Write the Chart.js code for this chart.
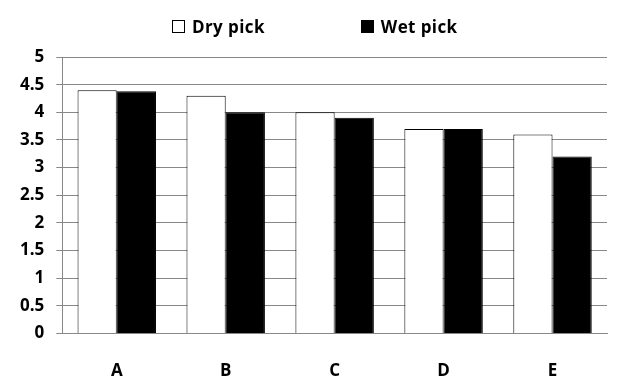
<!DOCTYPE html>
<html>
<head>
<meta charset="utf-8">
<script src="https://cdn.jsdelivr.net/npm/chart.js@4/dist/chart.umd.min.js"></script>
<style>
    html, body { margin: 0; padding: 0; background: #fff; }
    #wrap { position: relative; width: 638px; height: 388px; }
    #legend {
        position: absolute; top: 15px; left: 172px;
        display: flex; gap: 96px; line-height: 22px;
        font: bold 17px "Open Sans", sans-serif; color: #000; letter-spacing: 0.4px;
    }
    #legend span { display: flex; align-items: center; }
    #legend i { display: inline-block; width: 13px; height: 13px; margin-right: 7px; border: 1px solid #000; box-sizing: border-box; }
</style>
</head>
<body>
<div id="wrap">
    <canvas id="barChart" width="638" height="388"></canvas>
    <div id="legend"></div>
</div>
<script>
// --- Data ---
const categories = ['A', 'B', 'C', 'D', 'E'];
const dryPick = [4.4, 4.3, 4.0, 3.7, 3.6];
const wetPick = [4.38, 4.0, 3.9, 3.7, 3.2];
const seriesNames = ['Dry pick', 'Wet pick'];
const seriesColors = ['#ffffff', '#000000'];

const font = { family: '"Open Sans", sans-serif', size: 17, weight: 'bold' };

// html legend (the gap between items is wider than Chart.js legend padding allows)
const legendEl = document.getElementById('legend');
seriesNames.forEach((name, i) => {
    const item = document.createElement('span');
    const box = document.createElement('i');
    box.style.background = seriesColors[i];
    item.appendChild(box);
    item.appendChild(document.createTextNode(name));
    legendEl.appendChild(item);
});

const ctx = document.getElementById('barChart').getContext('2d');
new Chart(ctx, {
    type: 'bar',
    data: {
        labels: categories,
        datasets: [
            {
                label: seriesNames[0],
                data: dryPick,
                backgroundColor: seriesColors[0],
                borderColor: '#000',
                borderWidth: 1,
                barPercentage: 1,
                categoryPercentage: 0.72
            },
            {
                label: seriesNames[1],
                data: wetPick,
                backgroundColor: seriesColors[1],
                borderColor: '#000',
                borderWidth: 1,
                barPercentage: 1,
                categoryPercentage: 0.72
            }
        ]
    },
    options: {
        responsive: false,
        animation: false,
        layout: { padding: { top: 57, right: 31, bottom: -12, left: 8 } },
        plugins: {
            legend: { display: false },
            tooltip: { enabled: false }
        },
        scales: {
            x: {
                grid: { display: false },
                border: { display: true, color: '#888', width: 1 },
                ticks: { color: '#000', font: font, padding: 19 }
            },
            y: {
                min: 0,
                max: 5,
                grid: { color: '#888', tickLength: 6 },
                border: { display: true, color: '#888', width: 1 },
                ticks: {
                    stepSize: 0.5, color: '#000', font: font, padding: 12,
                    callback: v => String(Math.round(v * 10) / 10)
                }
            }
        }
    }
});
</script>
</body>
</html>
